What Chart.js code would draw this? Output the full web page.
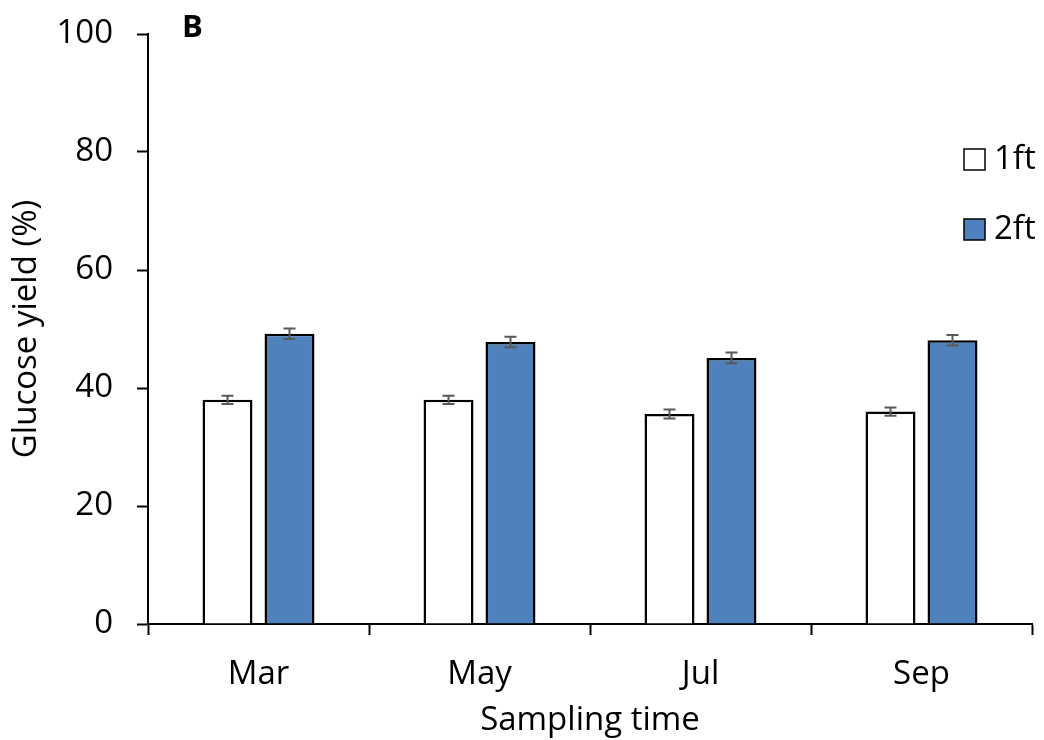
<!DOCTYPE html>
<html>
<head>
<meta charset="utf-8">
<script src="https://cdn.jsdelivr.net/npm/chart.js@4.4.1/dist/chart.umd.min.js"></script>
<style>
  html, body { margin: 0; padding: 0; background: #fff; }
  #wrap { width: 1044px; height: 740px; position: relative; }
</style>
</head>
<body>
<div id="wrap"><canvas id="c" width="1044" height="740"></canvas></div>
<script>
// Glucose yield by sampling month, for the two sampling depths
const months = ['Mar', 'May', 'Jul', 'Sep'];
const seriesNames = ['1ft', '2ft'];
const yield1ft = [38.0, 38.0, 35.6, 36.0];
const yield2ft = [49.2, 47.8, 45.1, 48.1];
const err1ft = [0.7, 0.7, 0.75, 0.7];
const err2ft = [0.9, 0.9, 0.9, 0.9];
const yTicks = [0, 20, 40, 60, 80, 100];

const FONT = '"Open Sans", Lato, sans-serif';

// Whiskers drawn on top of each bar, using the chart's own scales
const errorBars = {
  id: 'errorBars',
  afterDatasetsDraw(chart) {
    const ctx = chart.ctx;
    const ys = chart.scales.y;
    chart.data.datasets.forEach((ds, i) => {
      const meta = chart.getDatasetMeta(i);
      meta.data.forEach((bar, j) => {
        const v = ds.data[j], e = ds.errors[j];
        const top = ys.getPixelForValue(v + e);
        const bot = ys.getPixelForValue(v - e);
        ctx.save();
        ctx.strokeStyle = '#595959';
        ctx.lineWidth = 2;
        ctx.beginPath();
        ctx.moveTo(bar.x, top); ctx.lineTo(bar.x, bot);
        ctx.moveTo(bar.x - 6, top); ctx.lineTo(bar.x + 6, top);
        ctx.moveTo(bar.x - 6, bot); ctx.lineTo(bar.x + 6, bot);
        ctx.stroke();
        ctx.restore();
      });
    });
  }
};

// Panel letter and the legend sitting inside the plot area
const decorations = {
  id: 'decorations',
  afterDraw(chart) {
    const ctx = chart.ctx;
    const a = chart.chartArea;
    ctx.save();
    ctx.fillStyle = '#000';
    ctx.font = 'bold 31px ' + FONT;
    ctx.textBaseline = 'middle';
    ctx.textAlign = 'left';
    ctx.fillText('B', a.left + 34, a.top - 6);

    ctx.font = '33px ' + FONT;
    chart.data.datasets.forEach((ds, i) => {
      const cy = a.top + 125 + i * 70;
      const bx = a.right - 68;
      ctx.fillStyle = ds.backgroundColor;
      ctx.fillRect(bx, cy - 10, 21, 21);
      ctx.strokeStyle = '#000';
      ctx.lineWidth = 1.5;
      ctx.strokeRect(bx, cy - 10, 21, 21);
      ctx.fillStyle = '#000';
      ctx.fillText(ds.label, bx + 30, cy + 1);
    });
    ctx.restore();
  }
};

new Chart(document.getElementById('c'), {
  type: 'bar',
  data: {
    labels: months,
    datasets: [
      { label: seriesNames[0], data: yield1ft, errors: err1ft,
        backgroundColor: '#ffffff', borderColor: '#000', borderWidth: 2.5 },
      { label: seriesNames[1], data: yield2ft, errors: err2ft,
        backgroundColor: '#4f81bd', borderColor: '#000', borderWidth: 2.5 }
    ]
  },
  options: {
    responsive: false,
    animation: false,
    layout: { padding: { top: 34, right: 12, left: 0, bottom: 0 } },
    datasets: { bar: { categoryPercentage: 0.561, barPercentage: 0.806 } },
    plugins: { legend: { display: false }, tooltip: { enabled: false } },
    scales: {
      x: {
        grid: { display: true, drawOnChartArea: false, offset: true,
                tickLength: 11, tickWidth: 2, color: '#000' },
        border: { display: true, color: '#000', width: 2 },
        ticks: { color: '#000', font: { family: FONT, size: 33 }, padding: 20 },
        title: { display: true, text: 'Sampling time', color: '#000',
                 font: { family: FONT, size: 33 }, padding: { top: 0, bottom: 0 } },
        afterFit(s) { s.height = 116; s.paddingLeft = 0; s.paddingRight = 0; }
      },
      y: {
        min: 0, max: 100,
        afterBuildTicks(s) { s.ticks = yTicks.map(v => ({ value: v })); },
        grid: { display: true, drawOnChartArea: false, tickLength: 11, tickWidth: 2, color: '#000' },
        border: { display: true, color: '#000', width: 2 },
        ticks: { color: '#000', font: { family: FONT, size: 33 }, padding: 24 },
        title: { display: true, text: 'Glucose yield (%)', color: '#000',
                 font: { family: FONT, size: 33 }, padding: { top: 7, bottom: 0 } },
        afterFit(s) { s.width = 148; s.paddingTop = 0; s.paddingBottom = 0; }
      }
    }
  },
  plugins: [errorBars, decorations]
});
</script>
</body>
</html>
